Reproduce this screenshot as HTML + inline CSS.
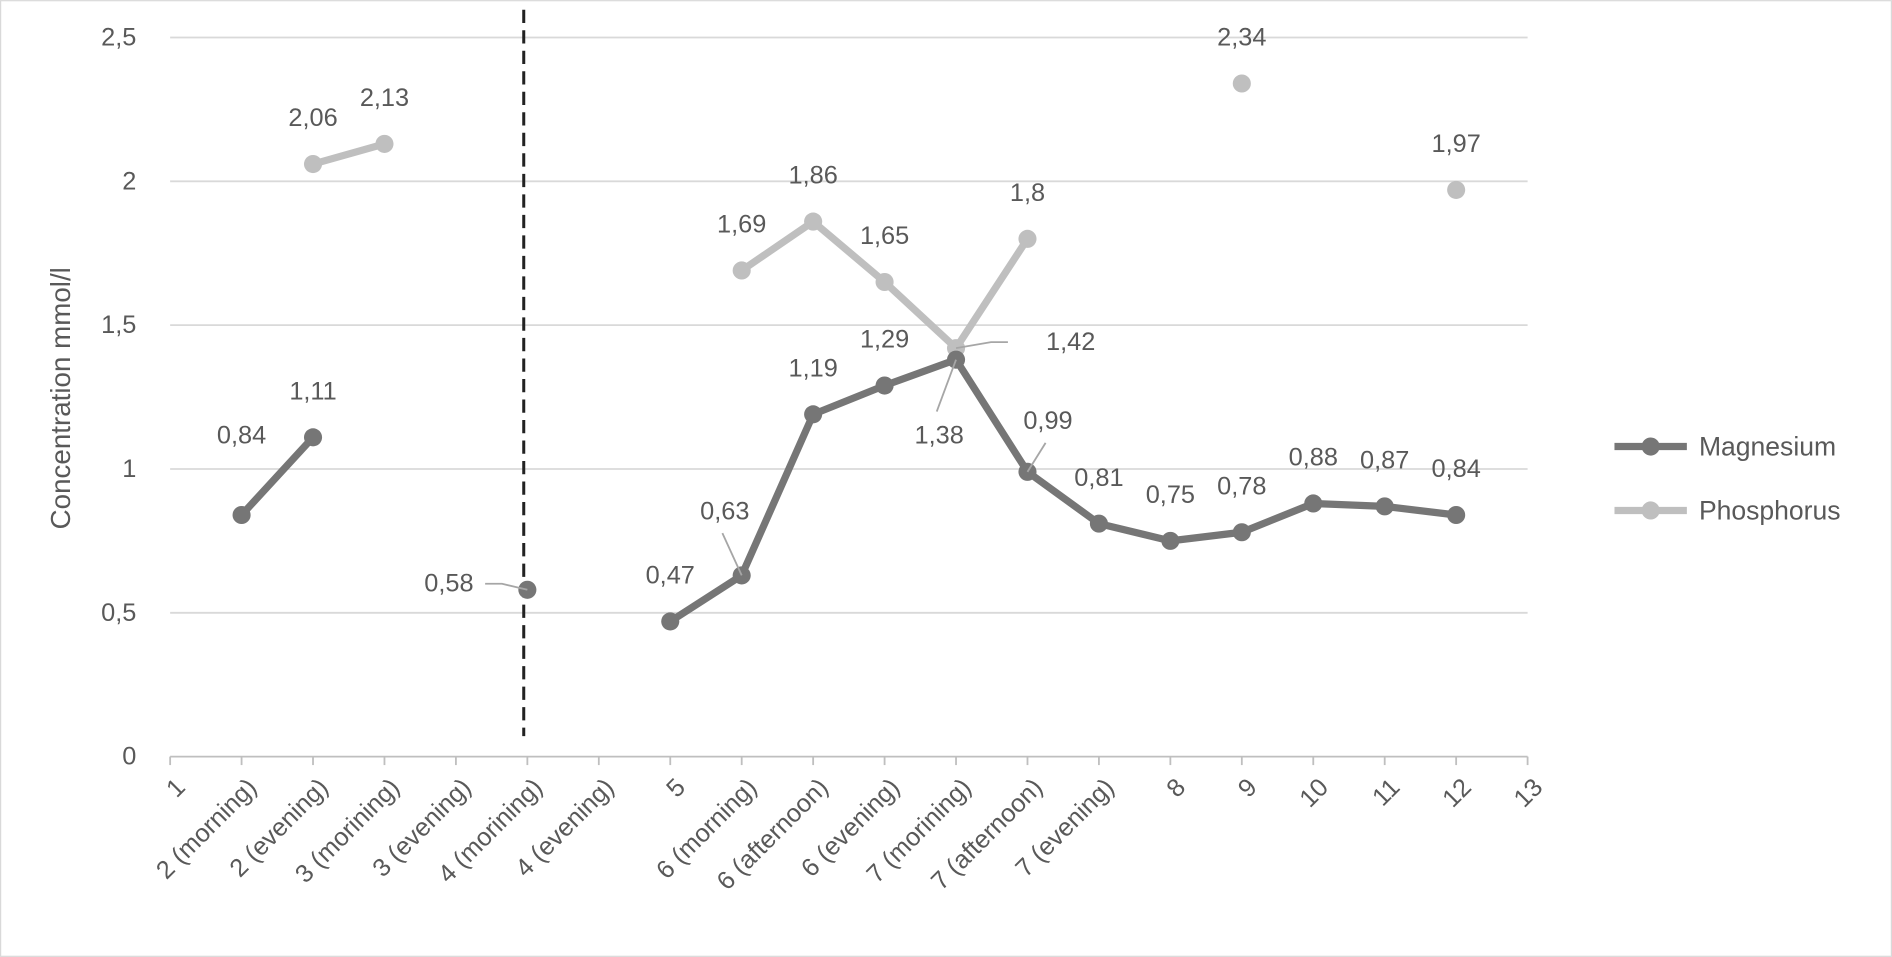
<!DOCTYPE html>
<html><head><meta charset="utf-8"><style>
html,body{margin:0;padding:0;background:#fff;}
svg{display:block;font-family:"Liberation Sans",sans-serif;}
</style></head><body>
<svg id="chart" width="1892" height="957" viewBox="0 0 1568 793" xmlns="http://www.w3.org/2000/svg">
<rect x="0.5" y="0.5" width="1567" height="792" fill="#fff" stroke="#d9d9d9"/>
<g id="grid"></g><g id="axes"></g><g id="series"></g><g id="labels"></g>
<text transform="translate(50,330) rotate(-90)" text-anchor="middle" dominant-baseline="central" font-size="23" fill="#595959">Concentration mmol/l</text>
<g>
<g><line x1="1338" y1="370" x2="1398" y2="370" stroke="#767676" stroke-width="6"/><circle cx="1368" cy="370" r="7.5" fill="#767676"/><text x="1408" y="370" dominant-baseline="central" font-size="22" fill="#595959">Magnesium</text></g>
<g><line x1="1338" y1="423" x2="1398" y2="423" stroke="#bfbfbf" stroke-width="6"/><circle cx="1368" cy="423" r="7.5" fill="#bfbfbf"/><text x="1408" y="423" dominant-baseline="central" font-size="22" fill="#595959">Phosphorus</text></g>
</g>
</svg>
<script>
const categories=["1","2 (morning)","2 (evening)","3 (morining)","3 (evening)","4 (morining)","4 (evening)","5","6 (morning)","6 (afternoon)","6 (evening)","7 (morining)","7 (afternoon)","7 (evening)","8","9","10","11","12","13"];
const magnesium=[null,0.84,1.11,null,null,0.58,null,0.47,0.63,1.19,1.29,1.38,0.99,0.81,0.75,0.78,0.88,0.87,0.84,null];
const phosphorus=[null,null,2.06,2.13,null,null,null,null,1.69,1.86,1.65,1.42,1.8,null,null,2.34,null,null,1.97,null];
const yTicks=[0,0.5,1,1.5,2,2.5];
const yTickLabels=["0","0,5","1","1,5","2","2,5"];
const dividerCategory=5;
const mgOffsets={1:[0,-66],5:[-65,-5],8:[-14,-53],11:[-14,63],12:[17,-42]};
const mgLeaders={5:1,8:1,11:1,12:1};
const pOffsets={11:[95,-5]};
const pLeaders={11:1};
const NS="http://www.w3.org/2000/svg";
const X0=141,X1=1266,Y0=627,Y1=31;
const xs=i=>X0+i*(X1-X0)/(categories.length-1);
const ys=v=>Y0-v*(Y0-Y1)/2.5;
function mk(tag,attrs,parent){const e=document.createElementNS(NS,tag);for(const k in attrs)e.setAttribute(k,attrs[k]);parent.appendChild(e);return e;}
const grid=document.getElementById('grid'),axes=document.getElementById('axes'),ser=document.getElementById('series'),lab=document.getElementById('labels');
yTicks.forEach((t,i)=>{
 if(t>0){const g=mk('line',{x1:X0,x2:X1,y1:ys(t),y2:ys(t),stroke:'#d9d9d9','stroke-width':1.5},grid);
 
 }
 const tx=mk('text',{x:X0-28,y:ys(t),'text-anchor':'end','dominant-baseline':'central','font-size':21,fill:'#595959'},axes);
 tx.textContent=yTickLabels[i];
 
 
});
const ax=mk('line',{x1:X0,x2:X1,y1:Y0,y2:Y0,stroke:'#bfbfbf','stroke-width':1.5},axes);


categories.forEach((c,i)=>{
 const x=xs(i);
 mk('line',{x1:x,x2:x,y1:Y0,y2:Y0+7,stroke:'#bfbfbf','stroke-width':1.5},axes);
 const t=mk('text',{transform:`translate(${x+9},${Y0+22}) rotate(-45)`,'text-anchor':'end','dominant-baseline':'central','font-size':21,fill:'#595959'},axes);
 t.textContent=c;
 
 
});
const dv=mk('line',{x1:xs(dividerCategory)-3,x2:xs(dividerCategory)-3,y1:8,y2:610,stroke:'#222','stroke-width':2.5,'stroke-dasharray':'11,6'},ser);


function drawSeries(data,color,name,offs,leaders){
 for(let i=0;i<data.length-1;i++){
  if(data[i]!=null&&data[i+1]!=null){
   const l=mk('line',{x1:xs(i),y1:ys(data[i]),x2:xs(i+1),y2:ys(data[i+1]),stroke:color,'stroke-width':6,'stroke-linecap':'round'},ser);
   
   
  }
 }
 data.forEach((v,i)=>{
  if(v==null)return;
  const px=xs(i),py=ys(v);
  const c=mk('circle',{cx:px,cy:py,r:7.5,fill:color},ser);
  
  
  const o=offs[i]||[0,-38];
  const lx=px+o[0],ly=py+o[1];
  if(leaders[i]){
   const sx=lx+(o[0]>40?-52:o[0]<-40?30:-2),sy=ly+(o[1]>40?-20:o[1]<-40?18:0);
   const d=mk('polyline',{points:`${sx},${sy} ${o[0]>40?sx-14:o[0]<-40?sx+14:sx},${sy} ${px},${py}`,fill:'none',stroke:'#a6a6a6','stroke-width':1.5},lab);
   
   
  }
  const t=mk('text',{x:lx,y:ly,'text-anchor':'middle','dominant-baseline':'central','font-size':21,fill:'#595959'},lab);
  t.textContent=String(v).replace('.',',');
  
  
 });
}
drawSeries(phosphorus,'#bfbfbf','phosphorus',pOffsets,pLeaders);
drawSeries(magnesium,'#767676','magnesium',mgOffsets,mgLeaders);
</script>
</body></html>
